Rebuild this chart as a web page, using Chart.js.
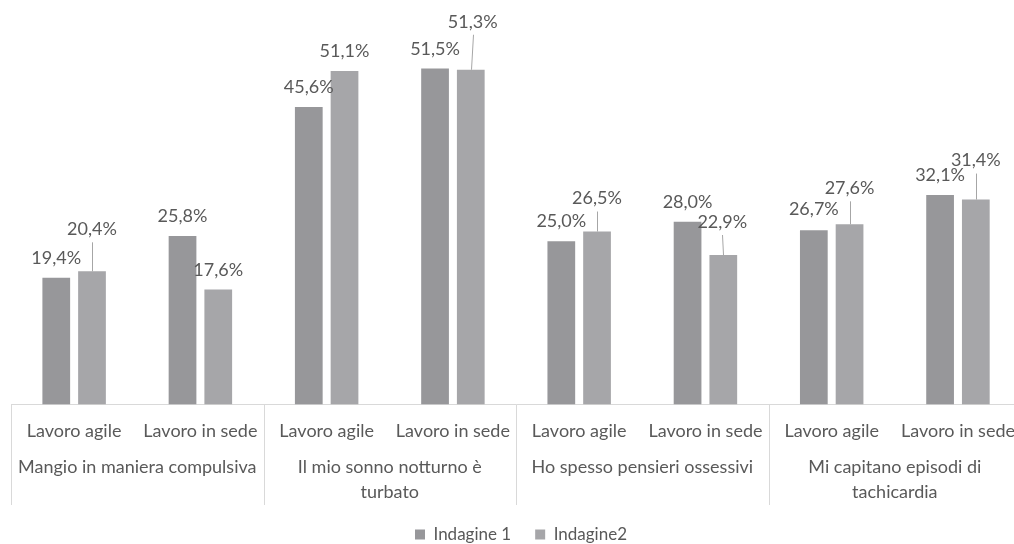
<!DOCTYPE html>
<html>
<head>
<meta charset="utf-8">
<script src="https://cdn.jsdelivr.net/npm/chart.js@4.4.1/dist/chart.umd.min.js"></script>
<style>
  html, body { margin: 0; padding: 0; background: #fff; overflow: hidden; }
  #wrap { width: 1014px; height: 544px; overflow: hidden; }
</style>
</head>
<body>
<div id="wrap"><canvas id="chart" width="1031" height="544"></canvas></div>
<script>
const subLabels = ['Lavoro agile', 'Lavoro in sede', 'Lavoro agile', 'Lavoro in sede',
                   'Lavoro agile', 'Lavoro in sede', 'Lavoro agile', 'Lavoro in sede'];
const groupLabels = [
  ['Mangio in maniera compulsiva'],
  ['Il mio sonno notturno è', 'turbato'],
  ['Ho spesso pensieri ossessivi'],
  ['Mi capitano episodi di', 'tachicardia']
];
const indagine1 = [19.4, 25.8, 45.6, 51.5, 25.0, 28.0, 26.7, 32.1];
const indagine2 = [20.4, 17.6, 51.1, 51.3, 26.5, 22.9, 27.6, 31.4];

// label nudges (px) from the bar top, per dataset
const labelNudge = [
  [[0, -20], [0, -20], [0, -20], [0, -19], [0, -20], [0, -20], [0, -21], [0, -20]],
  [[0, -42], [0, -19], [0, -20], [2, -48], [0, -33], [-1, -33], [0, -36], [0, -39]]
];

const FONT = 'Lato, "Liberation Sans", sans-serif';
const TXT = '#595959';
const LINE = '#d9d9d9';

const fmt = v => v.toFixed(1).replace('.', ',') + '%';

const barLabels = {
  id: 'barLabels',
  afterDatasetsDraw(chart) {
    const ctx = chart.ctx;
    ctx.save();
    ctx.font = '18px ' + FONT;
    ctx.fillStyle = TXT;
    ctx.textAlign = 'center';
    ctx.textBaseline = 'middle';
    chart.data.datasets.forEach((ds, di) => {
      chart.getDatasetMeta(di).data.forEach((el, i) => {
        const [dx, dy] = labelNudge[di][i];
        const lx = el.x + dx, ly = el.y + dy;
        if (dy < -28) {
          ctx.strokeStyle = '#a6a6a6';
          ctx.lineWidth = 1;
          ctx.beginPath();
          ctx.moveTo(Math.round(el.x) + 0.5, el.y);
          ctx.lineTo(Math.round(lx) + 0.5, ly + 13);
          ctx.stroke();
        }
        ctx.fillText(fmt(ds.data[i]), lx, ly);
      });
    });
    ctx.restore();
  }
};

const groupLines = {
  id: 'groupLines',
  afterDraw(chart) {
    const x = chart.scales.x, x2 = chart.scales.x2;
    const ctx = chart.ctx;
    const xs = [chart.chartArea.left];
    for (let g = 1; g < groupLabels.length; g++) {
      xs.push((x.getPixelForValue(2 * g - 1) + x.getPixelForValue(2 * g)) / 2);
    }
    xs.push(chart.chartArea.right);
    ctx.save();
    ctx.strokeStyle = LINE;
    ctx.lineWidth = 1;
    xs.forEach(px => {
      ctx.beginPath();
      ctx.moveTo(Math.round(px) + 0.5, chart.chartArea.bottom);
      ctx.lineTo(Math.round(px) + 0.5, x2.bottom + 3);
      ctx.stroke();
    });
    ctx.restore();
  }
};

new Chart(document.getElementById('chart'), {
  type: 'bar',
  data: {
    labels: subLabels,
    datasets: [
      { label: 'Indagine 1', data: indagine1, backgroundColor: '#97979a' },
      { label: 'Indagine2', data: indagine2, backgroundColor: '#a6a6a9' }
    ]
  },
  options: {
    responsive: false,
    animation: false,
    devicePixelRatio: 1,
    categoryPercentage: 0.566,
    barPercentage: 0.776,
    layout: { padding: { top: 13, left: 11, right: 0, bottom: -9 } },
    plugins: {
      legend: {
        position: 'bottom',
        labels: {
          boxWidth: 10, boxHeight: 10, padding: 24,
          color: TXT, font: { family: FONT, size: 17 }
        }
      },
      tooltip: { enabled: false }
    },
    scales: {
      y: { display: false, min: 0, max: 60 },
      x: {
        grid: { display: false, drawTicks: false },
        border: { display: true, color: LINE, width: 1 },
        ticks: {
          padding: 16, autoSkip: false, maxRotation: 0,
          color: TXT, font: { family: FONT, size: 18 }
        }
      },
      x2: {
        type: 'category',
        position: 'bottom',
        labels: groupLabels,
        offset: true,
        grid: { display: false, drawTicks: false },
        border: { display: false },
        ticks: {
          padding: -3, autoSkip: false, maxRotation: 0,
          color: TXT, font: { family: FONT, size: 18, lineHeight: 1.389 }
        }
      }
    }
  },
  plugins: [barLabels, groupLines]
});
</script>
</body>
</html>
